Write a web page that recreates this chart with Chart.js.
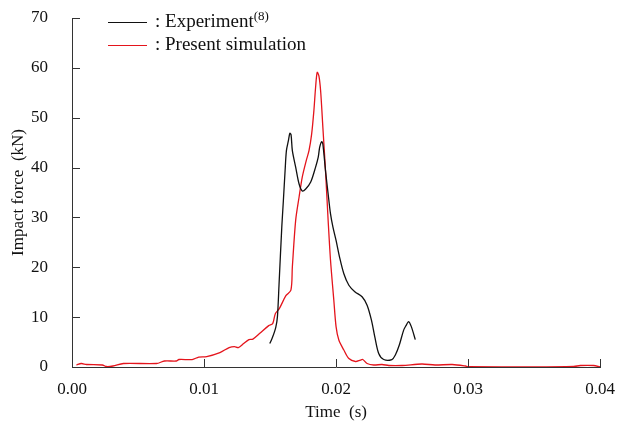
<!DOCTYPE html>
<html>
<head>
<meta charset="utf-8">
<script src="https://cdn.jsdelivr.net/npm/chart.js@4"></script>
<style>
  body { margin: 0; background: #fff; }
  #wrap { position: relative; width: 619px; height: 427px; }
  #wrap canvas { display: block; }
  .leg { position: absolute; left: 108px; font: 19px "Liberation Serif", serif; color: #111; line-height: 22px; white-space: nowrap; }
  .leg span.ln { display: inline-block; width: 39px; height: 0; border-top: 1.5px solid; vertical-align: middle; margin-right: 8px; }
  .leg sup { font-size: 13px; vertical-align: 7px; line-height: 0; }
</style>
</head>
<body>
<div id="wrap">
  <canvas id="impactChart" width="619" height="427"></canvas>
  <div class="leg" style="top:10px;"><span class="ln" style="border-color:#111;"></span>: Experiment<sup>(8)</sup></div>
  <div class="leg" style="top:33px;"><span class="ln" style="border-color:#e4141c;"></span>: Present simulation</div>
</div>
<script>
// 実験値 (時間[s], 衝撃力[kN])
const expTime = [0.01498, 0.01518, 0.01543, 0.01556, 0.01568, 0.01589, 0.01601, 0.01614, 0.01624, 0.01639,
  0.0165, 0.01659, 0.01669, 0.01694, 0.0172, 0.01744, 0.0177, 0.01808, 0.01845, 0.01865,
  0.01876, 0.01891, 0.019, 0.0192, 0.0194, 0.01958, 0.01976, 0.02, 0.02026, 0.02059,
  0.02097, 0.02142, 0.02197, 0.02235, 0.02268, 0.02293, 0.02323, 0.02361, 0.02423, 0.02449,
  0.02479, 0.02512, 0.02532, 0.02549, 0.0257, 0.026];
const expForce = [4.7, 5.9, 7.9, 10.1, 16.5, 28.1, 33.4, 39.4, 43.4, 45.4,
  46.9, 46.6, 43.4, 40.1, 36.7, 35.3, 35.7, 37.1, 40.1, 42.1,
  44.1, 45.2, 44.7, 39.4, 34.7, 30.7, 28.1, 25.4, 22.1, 18.7,
  16.4, 15.1, 14.1, 12.4, 9.4, 6.1, 2.7, 1.5, 1.5, 2.4,
  4.4, 7.4, 8.4, 9.1, 8.1, 5.5];

// 解析値
const simTime = [0.00034, 0.0007, 0.0011, 0.0023, 0.0026, 0.0031, 0.0039, 0.0064, 0.007, 0.0079,
  0.0081, 0.0091, 0.0096, 0.0102, 0.0112, 0.0119, 0.0123, 0.0126, 0.013, 0.0134,
  0.0137, 0.0142, 0.0149, 0.0152, 0.0154, 0.0157, 0.0162, 0.01658, 0.01669, 0.01694,
  0.0172, 0.01744, 0.01774, 0.01795, 0.01815, 0.01832, 0.01845, 0.01857, 0.0187, 0.01883,
  0.019, 0.0192, 0.0194, 0.01958, 0.01983, 0.02, 0.02021, 0.02059, 0.02097, 0.02147,
  0.02185, 0.02202, 0.02235, 0.02285, 0.02348, 0.024, 0.025, 0.0265, 0.0275, 0.0288,
  0.0298, 0.03, 0.035, 0.038, 0.0385, 0.0395, 0.04];
const simForce = [0.4, 0.7, 0.5, 0.4, 0.1, 0.2, 0.7, 0.7, 1.2, 1.2,
  1.5, 1.5, 2.0, 2.1, 2.9, 3.9, 4.1, 3.9, 4.7, 5.5,
  5.6, 6.7, 8.3, 8.7, 10.7, 11.7, 14.3, 15.4, 20.1, 29.4,
  34.1, 38.1, 41.4, 43.4, 46.7, 51.4, 56.1, 59.1, 58.4, 55.4,
  48.1, 39.4, 29.4, 21.4, 13.4, 8.1, 5.4, 3.4, 1.7, 1.1,
  1.4, 1.5, 0.7, 0.4, 0.5, 0.3, 0.3, 0.6, 0.4, 0.5,
  0.2, 0.05, 0.0, 0.1, 0.3, 0.3, 0.0];

const xTicks = [0, 0.01, 0.02, 0.03, 0.04];
const yTicks = [0, 10, 20, 30, 40, 50, 60, 70];

const toXY = (ts, vs) => ts.map((t, i) => ({ x: t, y: vs[i] }));

const serif = '"Liberation Serif", "Times New Roman", serif';
const axisColor = '#333';

// 内向きの目盛り線
const innerTicks = {
  id: 'innerTicks',
  afterDraw(chart) {
    const { ctx, scales: { x, y } } = chart;
    ctx.save();
    ctx.strokeStyle = axisColor;
    ctx.lineWidth = 1;
    ctx.beginPath();
    xTicks.slice(1).forEach(v => {
      const px = Math.round(x.getPixelForValue(v)) + 0.5;
      ctx.moveTo(px, y.bottom);
      ctx.lineTo(px, y.bottom - 8);
    });
    yTicks.slice(1).forEach(v => {
      const py = Math.round(y.getPixelForValue(v)) + 0.5;
      ctx.moveTo(x.left, py);
      ctx.lineTo(x.left + 8, py);
    });
    ctx.stroke();
    ctx.restore();
  }
};

new Chart(document.getElementById('impactChart'), {
  type: 'line',
  data: {
    datasets: [
      {
        label: 'Experiment',
        data: toXY(expTime, expForce),
        borderColor: '#111',
        borderWidth: 1.3,
        pointRadius: 0,
        tension: 0.3,
        fill: false
      },
      {
        label: 'Present simulation',
        data: toXY(simTime, simForce),
        borderColor: '#e4141c',
        borderWidth: 1.3,
        pointRadius: 0,
        tension: 0.3,
        fill: false
      }
    ]
  },
  options: {
    responsive: false,
    devicePixelRatio: 1,
    animation: false,
    layout: { padding: { top: 18, right: 17, left: 4, bottom: 0 } },
    plugins: {
      legend: { display: false },
      tooltip: { enabled: false }
    },
    scales: {
      x: {
        type: 'linear',
        min: 0,
        max: 0.04,
        afterBuildTicks: s => { s.ticks = xTicks.map(v => ({ value: v })); },
        afterFit: s => { s.height = 60; },
        grid: { display: false },
        border: { color: axisColor, width: 1 },
        ticks: {
          color: '#111',
          font: { family: serif, size: 17 },
          padding: 4,
          maxRotation: 0,
          callback: v => v.toFixed(2)
        },
        title: {
          display: true,
          text: 'Time  (s)',
          color: '#111',
          font: { family: serif, size: 17 },
          padding: { top: 9 }
        }
      },
      y: {
        min: 0,
        max: 70,
        afterBuildTicks: s => { s.ticks = yTicks.map(v => ({ value: v })); },
        afterFit: s => { s.width = 68; s.paddingTop = 0; s.paddingBottom = 0; },
        grid: { display: false },
        border: { color: axisColor, width: 1 },
        ticks: {
          color: '#111',
          font: { family: serif, size: 17 },
          padding: 16
        },
        title: {
          display: true,
          text: 'Impact force  (kN)',
          color: '#111',
          font: { family: serif, size: 17 },
          padding: { bottom: 2 }
        }
      }
    }
  },
  plugins: [innerTicks]
});
</script>
</body>
</html>
